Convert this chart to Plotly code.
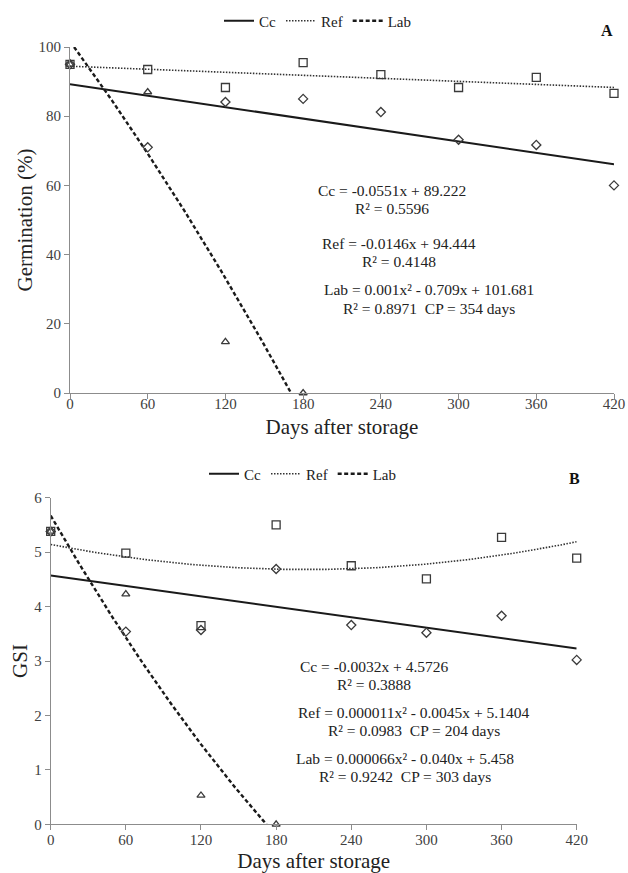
import numpy as np
import plotly.graph_objects as go

# ---------------- data ----------------
days = [0, 60, 120, 180, 240, 300, 360, 420]
lab_days = [0, 60, 120, 180]

# Panel A: germination (%)
germ_ref = [95, 93.5, 88.3, 95.5, 92.0, 88.3, 91.2, 86.6]
germ_cc = [95, 87.0, 84.1, 85.0, 81.2, 73.2, 71.7, 60.0]
germ_lab = [95, 71.0, 14.8, 0.0]

# Panel B: GSI
gsi_ref = [5.38, 4.98, 3.65, 5.50, 4.75, 4.51, 5.27, 4.89]
gsi_cc = [5.38, 4.23, 3.57, 4.69, 3.66, 3.52, 3.83, 3.02]
gsi_lab = [5.38, 3.54, 0.53, 0.0]

# trend-line coefficients (highest power first) as drawn
germ_cc_coef = [-0.0551, 89.222]
germ_ref_coef = [-0.0146, 94.444]
germ_lab_coef = [-0.0005, -0.51, 101.6]
gsi_cc_coef = [-0.0032, 4.5726]
gsi_ref_coef = [0.000011, -0.0045, 5.1404]
gsi_lab_coef = [0.00004, -0.0398, 5.67]

x_ticks = [0, 60, 120, 180, 240, 300, 360, 420]
germ_ticks = [0, 20, 40, 60, 80, 100]
gsi_ticks = [0, 1, 2, 3, 4, 5, 6]

eq_A = [["Cc = -0.0551x + 89.222", "R² = 0.5596"],
        ["Ref = -0.0146x + 94.444", "R² = 0.4148"],
        ["Lab = 0.001x² - 0.709x + 101.681", "R² = 0.8971  CP = 354 days"]]
eq_B = [["Cc = -0.0032x + 4.5726", "R² = 0.3888"],
        ["Ref = 0.000011x² - 0.0045x + 5.1404", "R² = 0.0983  CP = 204 days"],
        ["Lab = 0.000066x² - 0.040x + 5.458", "R² = 0.9242  CP = 303 days"]]

# ---------------- helpers ----------------
W, H = 628, 873
FONT = "Liberation Serif, Times New Roman, serif"
MK = "#3a3a3a"
LN = "#1a1a1a"


def curve(coef, x0, x1, ymin=None, ymax=None):
    p = np.poly1d(coef)
    lo, hi = x0, x1
    if ymax is not None and p(lo) > ymax:
        r = np.roots(np.poly1d(coef) - ymax)
        r = np.real(r[np.isreal(r)])
        lo = min(v for v in r if v >= x0)
    if ymin is not None and p(hi) < ymin:
        r = np.roots(np.poly1d(coef) - ymin)
        r = np.real(r[np.isreal(r)])
        hi = min(v for v in r if v >= lo)
    xs = np.linspace(lo, hi, 200)
    return xs, p(xs)


def px_x(p):
    return p / W


def px_y(p):
    return 1 - p / H


fig = go.Figure()

line_styles = {
    "Cc": dict(color=LN, width=2, dash="solid"),
    "Ref": dict(color="#333333", width=1.6, dash="1.5px,1.5px"),
    "Lab": dict(color=LN, width=2.4, dash="4px,2.5px"),
}

panels = [
    dict(xa="x", ya="y", legend="legend",
         ref=germ_ref, cc=germ_cc, lab=germ_lab,
         coefs={"Cc": germ_cc_coef, "Ref": germ_ref_coef, "Lab": germ_lab_coef},
         ymax=100),
    dict(xa="x2", ya="y2", legend="legend2",
         ref=gsi_ref, cc=gsi_cc, lab=gsi_lab,
         coefs={"Cc": gsi_cc_coef, "Ref": gsi_ref_coef, "Lab": gsi_lab_coef},
         ymax=6),
]

for pnl in panels:
    # trend lines (legend entries)
    for name in ["Cc", "Ref", "Lab"]:
        xs, ys = curve(pnl["coefs"][name], 0, 420, ymin=0, ymax=pnl["ymax"])
        fig.add_trace(go.Scatter(x=xs, y=ys, mode="lines", name=name,
                                 line=line_styles[name], xaxis=pnl["xa"], yaxis=pnl["ya"],
                                 legend=pnl["legend"], hoverinfo="skip"))
    # markers
    cc_sym = ["diamond-open"] * len(days)
    cc_sym[1] = "triangle-up-open"
    lab_sym = ["triangle-up-open"] * len(lab_days)
    lab_sym[1] = "diamond-open"
    fig.add_trace(go.Scatter(x=days, y=pnl["ref"], mode="markers", showlegend=False,
                             marker=dict(symbol="square-open", size=8, color=MK, line=dict(width=1.3, color=MK)),
                             xaxis=pnl["xa"], yaxis=pnl["ya"], cliponaxis=False))
    fig.add_trace(go.Scatter(x=days, y=pnl["cc"], mode="markers", showlegend=False,
                             marker=dict(symbol=cc_sym, size=7, color=MK, line=dict(width=1.3, color=MK)),
                             xaxis=pnl["xa"], yaxis=pnl["ya"], cliponaxis=False))
    fig.add_trace(go.Scatter(x=lab_days, y=pnl["lab"], mode="markers", showlegend=False,
                             marker=dict(symbol=lab_sym, size=7, color=MK, line=dict(width=1.3, color=MK)),
                             xaxis=pnl["xa"], yaxis=pnl["ya"], cliponaxis=False))

axis_common = dict(showline=True, linecolor="#8c8c8c", linewidth=1, showgrid=False, zeroline=False,
                   ticks="outside", ticklen=5, tickcolor="#8c8c8c", tickwidth=1,
                   tickfont=dict(family=FONT, size=15, color="#404040"))

annotations = []
eq_font = dict(family=FONT, size=15.5, color="#222")
for (l1, l2), cx, cy in zip(eq_A, [392, 399, 429], [190, 243, 290]):
    annotations.append(dict(text=l1, x=px_x(cx), y=px_y(cy), xref="paper", yref="paper",
                            xanchor="center", yanchor="middle", showarrow=False, font=eq_font))
    annotations.append(dict(text=l2, x=px_x(cx), y=px_y(cy + 18.5), xref="paper", yref="paper",
                            xanchor="center", yanchor="middle", showarrow=False, font=eq_font))
for (l1, l2), cx, cy in zip(eq_B, [374, 413.5, 405], [666.5, 712.5, 758.3]):
    annotations.append(dict(text=l1, x=px_x(cx), y=px_y(cy), xref="paper", yref="paper",
                            xanchor="center", yanchor="middle", showarrow=False, font=eq_font))
    annotations.append(dict(text=l2, x=px_x(cx), y=px_y(cy + 18.3), xref="paper", yref="paper",
                            xanchor="center", yanchor="middle", showarrow=False, font=eq_font))
annotations.append(dict(text="<b>A</b>", x=px_x(607), y=px_y(31), xref="paper", yref="paper",
                        xanchor="center", yanchor="middle", showarrow=False,
                        font=dict(family=FONT, size=16, color="#111")))
annotations.append(dict(text="<b>B</b>", x=px_x(574), y=px_y(478), xref="paper", yref="paper",
                        xanchor="center", yanchor="middle", showarrow=False,
                        font=dict(family=FONT, size=16, color="#111")))

title_font = dict(family=FONT, size=21, color="#222")

fig.update_layout(
    width=W, height=H, margin=dict(l=0, r=0, t=0, b=0, autoexpand=False),
    paper_bgcolor="white", plot_bgcolor="white",
    font=dict(family=FONT, color="#222"),
    showlegend=True,
    xaxis=dict(domain=[px_x(70), px_x(614)], range=[0, 420], tickvals=x_ticks, anchor="y",
               ticklabelstandoff=-8,
               title=dict(text="Days after storage", font=title_font, standoff=8),
               **axis_common),
    yaxis=dict(domain=[px_y(393), px_y(47)], range=[0, 100], tickvals=germ_ticks, anchor="x",
               title=dict(text="Germination (%)", font=title_font, standoff=0),
               **axis_common),
    xaxis2=dict(domain=[px_x(50.7), px_x(576.7)], range=[0, 420], tickvals=x_ticks, anchor="y2",
                ticklabelstandoff=-3,
                title=dict(text="Days after storage", font=title_font, standoff=11),
                **axis_common),
    yaxis2=dict(domain=[px_y(824.3), px_y(497.7)], range=[0, 6], tickvals=gsi_ticks, anchor="x2",
                title=dict(text="GSI", font=title_font, standoff=0),
                **axis_common),
    legend=dict(orientation="h", x=px_x(318), y=px_y(21), xanchor="center", yanchor="middle",
                font=dict(family=FONT, size=15, color="#222"), bgcolor="rgba(0,0,0,0)",
                itemwidth=30, tracegroupgap=0),
    legend2=dict(orientation="h", x=px_x(303), y=px_y(474), xanchor="center", yanchor="middle",
                 font=dict(family=FONT, size=15, color="#222"), bgcolor="rgba(0,0,0,0)",
                 itemwidth=30, tracegroupgap=0),
    annotations=annotations,
)

fig.write_html("out.html")
